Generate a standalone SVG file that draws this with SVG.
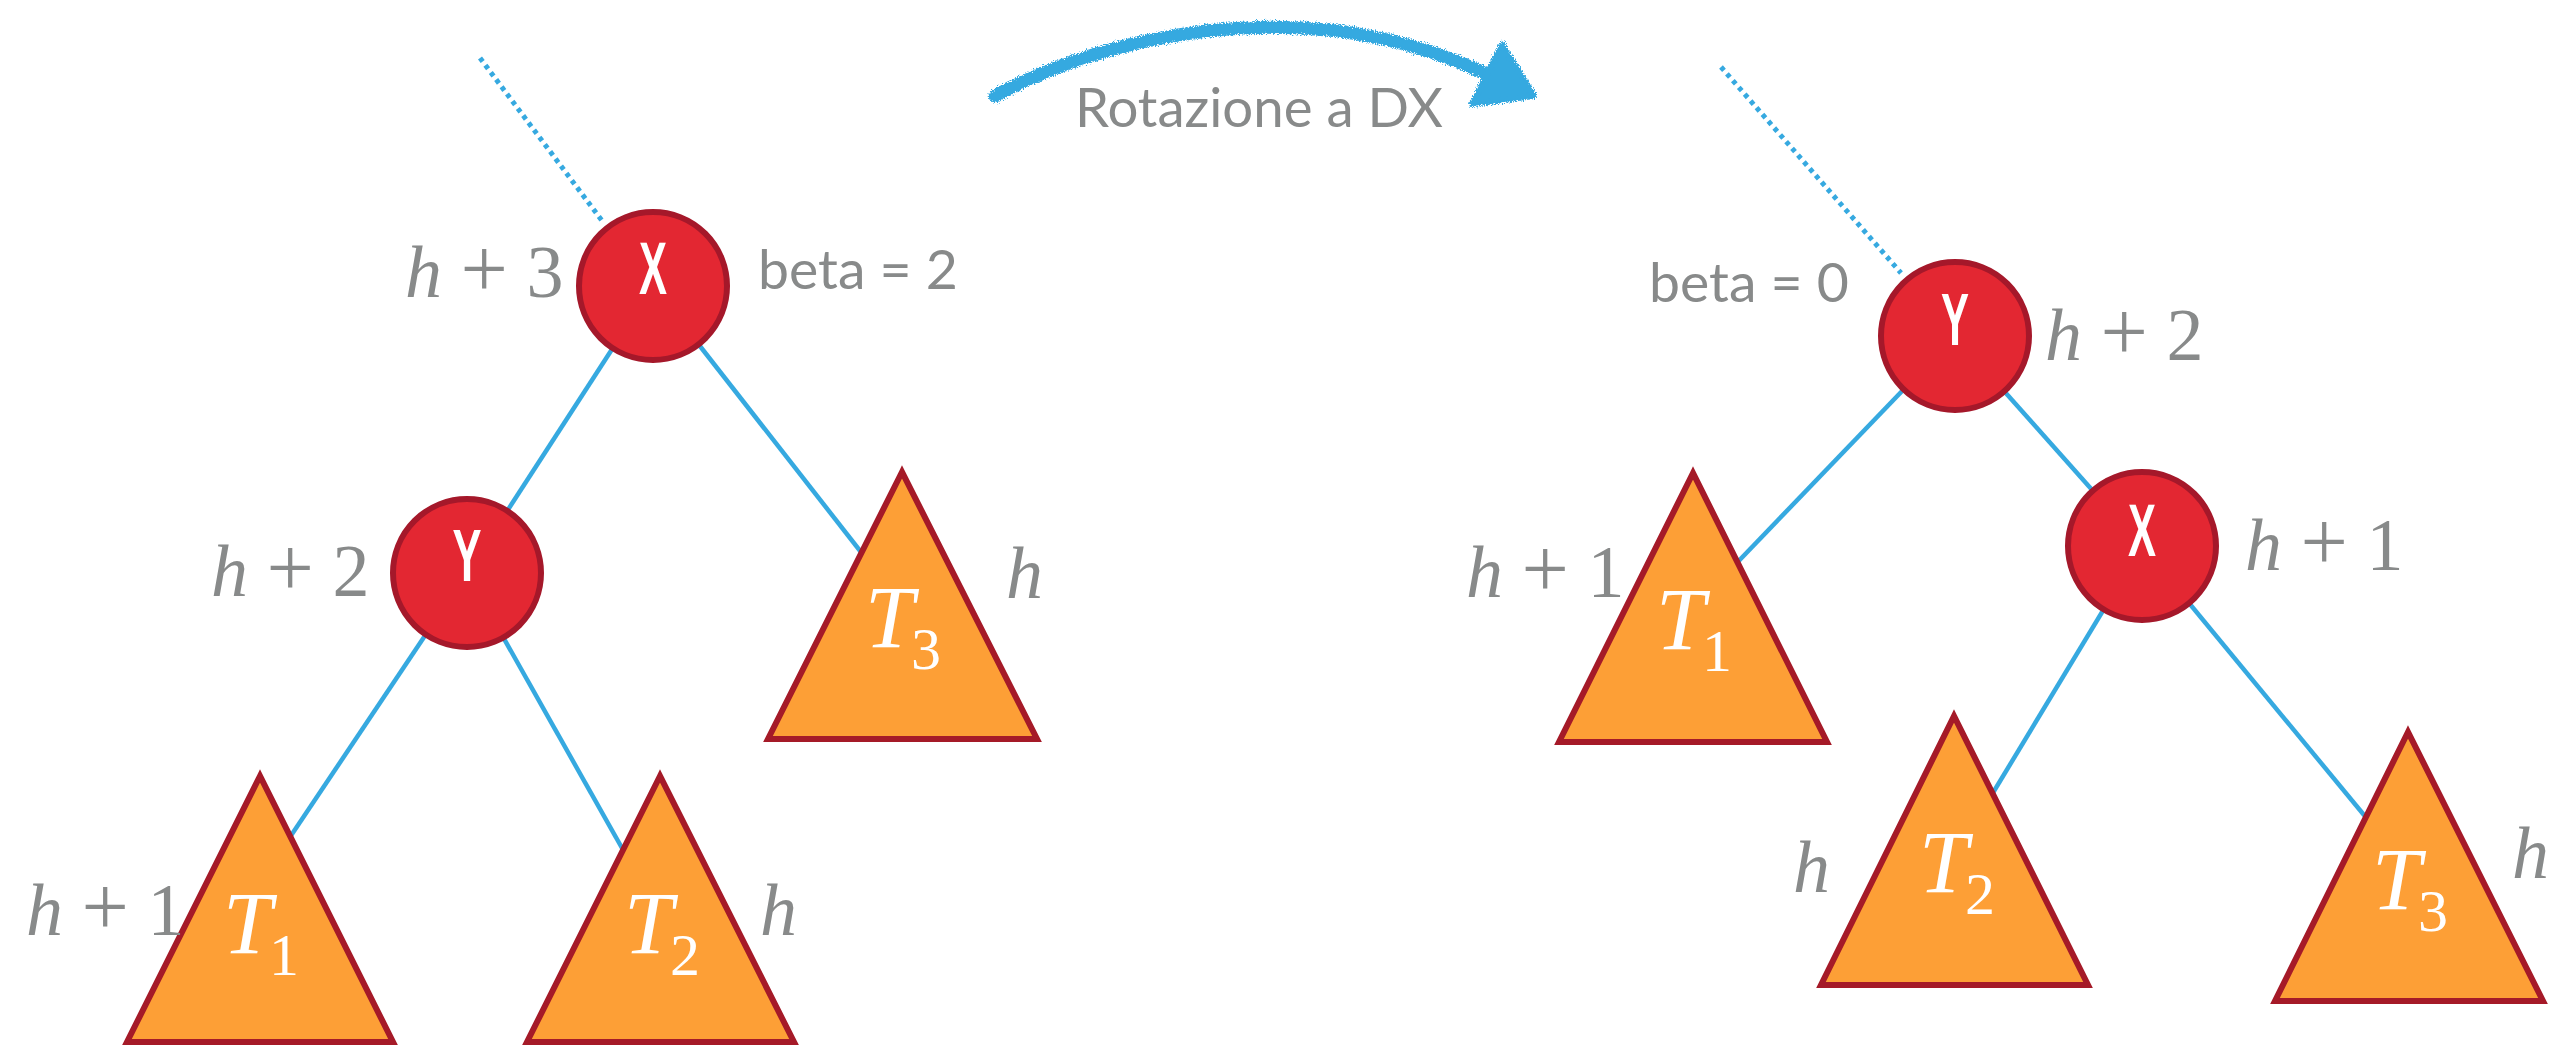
<svg xmlns="http://www.w3.org/2000/svg" width="2573" height="1046" viewBox="0 0 2573 1046">
<defs>
<style>
.edge{stroke:#36a9e0;stroke-width:4.5;fill:none}
.dot{stroke:#36a9e0;stroke-width:5;fill:none;stroke-dasharray:4.5 4.5}
.node{fill:#e32732;stroke:#a5182a;stroke-width:6}
.tri{fill:#fd9f36;stroke:#a51a28;stroke-width:6}
.nl{font-family:"Liberation Sans",Arial,sans-serif;font-weight:bold;font-size:74px;fill:#fff;text-anchor:middle}
.h{font-family:"Liberation Serif","Times New Roman",serif;font-size:74px;fill:#888a8a}
.p{font-size:84px}
.tl{font-family:"Liberation Serif","Times New Roman",serif;font-size:88px;font-style:italic;fill:#fff}
.sub{font-style:normal;font-size:60px}
.s{font-family:Lato,"Noto Sans",sans-serif;font-size:54px;fill:#888a8a}
</style>
<filter id="rough" x="-10%" y="-50%" width="120%" height="200%">
<feTurbulence type="fractalNoise" baseFrequency="0.9" numOctaves="3" seed="5" result="n"/>
<feDisplacementMap in="SourceGraphic" in2="n" scale="7" xChannelSelector="R" yChannelSelector="G"/>
</filter>
</defs>
<rect width="2573" height="1046" fill="#fff"/>

<g id="connectors">
<path class="dot" d="M480,58 L603,222"/>
<path class="edge" d="M653,286 L467,573"/>
<path class="edge" d="M653,286 L875,570"/>
<path class="edge" d="M467,573 L280,852"/>
<path class="edge" d="M467,573 L640,880"/>
<path class="dot" d="M1721,67 L1901,273"/>
<path class="edge" d="M1955,336 L2142,546"/>
<path class="edge" d="M1955,336 L1730,570"/>
<path class="edge" d="M2142,546 L1985,806"/>
<path class="edge" d="M2142,546 L2378,832"/>
</g>

<g id="rotation-arrow" filter="url(#rough)">
<path d="M995,96 C1100,38 1300,-12 1482,72" fill="none" stroke="#36a9e0" stroke-width="13" stroke-linecap="round"/>
<polygon points="1502,44 1534,96 1472,104" fill="#36a9e0" stroke="#36a9e0" stroke-width="6" stroke-linejoin="round"/>
</g>
<text class="s" x="1075" y="127" textLength="368" lengthAdjust="spacingAndGlyphs">Rotazione a DX</text>

<g id="left-X">
<circle class="node" cx="653" cy="286" r="74"/>
<text class="nl" x="653" y="294" textLength="28" lengthAdjust="spacingAndGlyphs">X</text>
<text class="h" x="405" y="297"><tspan font-style="italic">h</tspan> <tspan class="p">+</tspan> 3</text>
<text class="s" x="758" y="289" textLength="200" lengthAdjust="spacingAndGlyphs">beta = 2</text>
</g>
<g id="left-Y">
<circle class="node" cx="467" cy="573" r="74"/>
<text class="nl" x="467" y="581" textLength="29" lengthAdjust="spacingAndGlyphs">Y</text>
<text class="h" x="211" y="596"><tspan font-style="italic">h</tspan> <tspan class="p">+</tspan> 2</text>
</g>
<g id="left-T1">
<polygon class="tri" points="260,776 127,1042 393,1042"/>
<text class="tl" x="223" y="953">T<tspan class="sub" dx="-3" dy="22">1</tspan></text>
<text class="h" x="26" y="935"><tspan font-style="italic">h</tspan> <tspan class="p">+</tspan> 1</text>
</g>
<g id="left-T2">
<polygon class="tri" points="660,776 527,1042 794,1042"/>
<text class="tl" x="624" y="953">T<tspan class="sub" dx="-3" dy="22">2</tspan></text>
<text class="h" x="760" y="935" font-style="italic">h</text>
</g>
<g id="left-T3">
<polygon class="tri" points="902,472 768,739 1037,739"/>
<text class="tl" x="865" y="647">T<tspan class="sub" dx="-3" dy="22">3</tspan></text>
<text class="h" x="1006" y="598" font-style="italic">h</text>
</g>

<g id="right-Y">
<circle class="node" cx="1955" cy="336" r="74"/>
<text class="nl" x="1955" y="345" textLength="28" lengthAdjust="spacingAndGlyphs">Y</text>
<text class="h" x="2045" y="360"><tspan font-style="italic">h</tspan> <tspan class="p">+</tspan> 2</text>
<text class="s" x="1649" y="302" textLength="200" lengthAdjust="spacingAndGlyphs">beta = 0</text>
</g>
<g id="right-X">
<circle class="node" cx="2142" cy="546" r="74"/>
<text class="nl" x="2142" y="556" textLength="28" lengthAdjust="spacingAndGlyphs">X</text>
<text class="h" x="2245" y="570"><tspan font-style="italic">h</tspan> <tspan class="p">+</tspan> 1</text>
</g>
<g id="right-T1">
<polygon class="tri" points="1693,473 1559,742 1827,742"/>
<text class="tl" x="1656" y="649">T<tspan class="sub" dx="-3" dy="22">1</tspan></text>
<text class="h" x="1466" y="597"><tspan font-style="italic">h</tspan> <tspan class="p">+</tspan> 1</text>
</g>
<g id="right-T2">
<polygon class="tri" points="1954,716 1821,985 2088,985"/>
<text class="tl" x="1919" y="892">T<tspan class="sub" dx="-3" dy="22">2</tspan></text>
<text class="h" x="1793" y="892" font-style="italic">h</text>
</g>
<g id="right-T3">
<polygon class="tri" points="2408,732 2275,1001 2543,1001"/>
<text class="tl" x="2372" y="909">T<tspan class="sub" dx="-3" dy="22">3</tspan></text>
<text class="h" x="2512" y="878" font-style="italic">h</text>
</g>
</svg>
